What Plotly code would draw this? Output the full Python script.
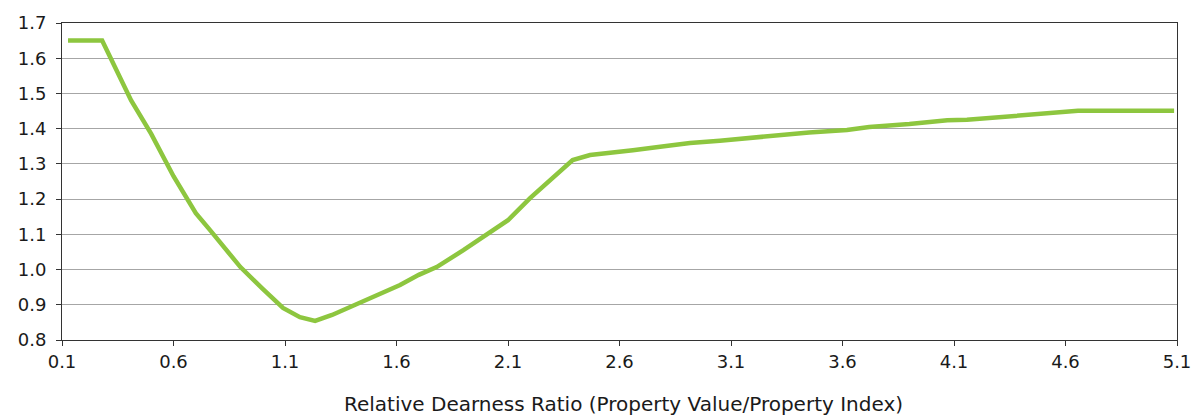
import plotly.graph_objects as go

ratio = [0.127, 0.28, 0.41, 0.5, 0.6, 0.7, 0.764, 0.8, 0.9, 1.0, 1.091, 1.167, 1.235,
         1.311, 1.391, 1.5, 1.616, 1.7, 1.78, 1.9, 1.988, 2.1, 2.199, 2.3, 2.39,
         2.468, 2.55, 2.66, 2.8, 2.916, 3.05, 3.17, 3.3, 3.45, 3.62, 3.72, 3.9,
         4.07, 4.158, 4.4, 4.656, 5.087]
factor = [1.65, 1.65, 1.48, 1.385, 1.265, 1.16, 1.112, 1.085, 1.007, 0.945, 0.891, 0.865, 0.854,
          0.871, 0.894, 0.923, 0.956, 0.985, 1.007, 1.055, 1.092, 1.14, 1.203, 1.26, 1.311,
          1.325, 1.330, 1.339, 1.35, 1.359, 1.366, 1.373, 1.382, 1.389, 1.396, 1.405, 1.413,
          1.424, 1.425, 1.438, 1.451, 1.451]

x_title = "Relative Dearness Ratio (Property Value/Property Index)"

fig = go.Figure()
fig.add_trace(go.Scatter(x=ratio, y=factor, mode="lines",
                         line=dict(color="#8DC63F", width=4.5), showlegend=False))

fam = "DejaVu Sans, Verdana, sans-serif"
tick_font = dict(family=fam, size=18, color="#1a1a1a")
fig.update_layout(
    width=1197, height=418,
    margin=dict(l=62, r=20, t=23, b=78, autoexpand=False),
    paper_bgcolor="white", plot_bgcolor="white",
    font=tick_font,
    xaxis=dict(range=[0.1, 5.1], tick0=0.1, dtick=0.5, tickformat=".1f",
               showgrid=False, zeroline=False, automargin=False,
               showline=True, linecolor="#333333", linewidth=1, mirror=True,
               ticks="outside", ticklen=5, tickcolor="#333333",
               tickfont=tick_font),
    yaxis=dict(range=[0.8, 1.7], tick0=0.8, dtick=0.1, tickformat=".1f",
               showgrid=True, gridcolor="#a6a6a6", gridwidth=1, zeroline=False,
               automargin=False,
               showline=True, linecolor="#333333", linewidth=1, mirror=True,
               ticks="outside", ticklen=5, tickcolor="#333333",
               ticklabelstandoff=6, tickfont=tick_font),
    annotations=[dict(text=x_title, xref="paper", yref="paper", x=0.504, y=-0.203,
                      xanchor="center", yanchor="middle", showarrow=False,
                      font=dict(family=fam, size=20, color="#1a1a1a"))],
)
fig.write_html("out.html", config={"displayModeBar": False},
               post_script="document.body.style.margin='0';document.body.style.overflow='hidden';")
